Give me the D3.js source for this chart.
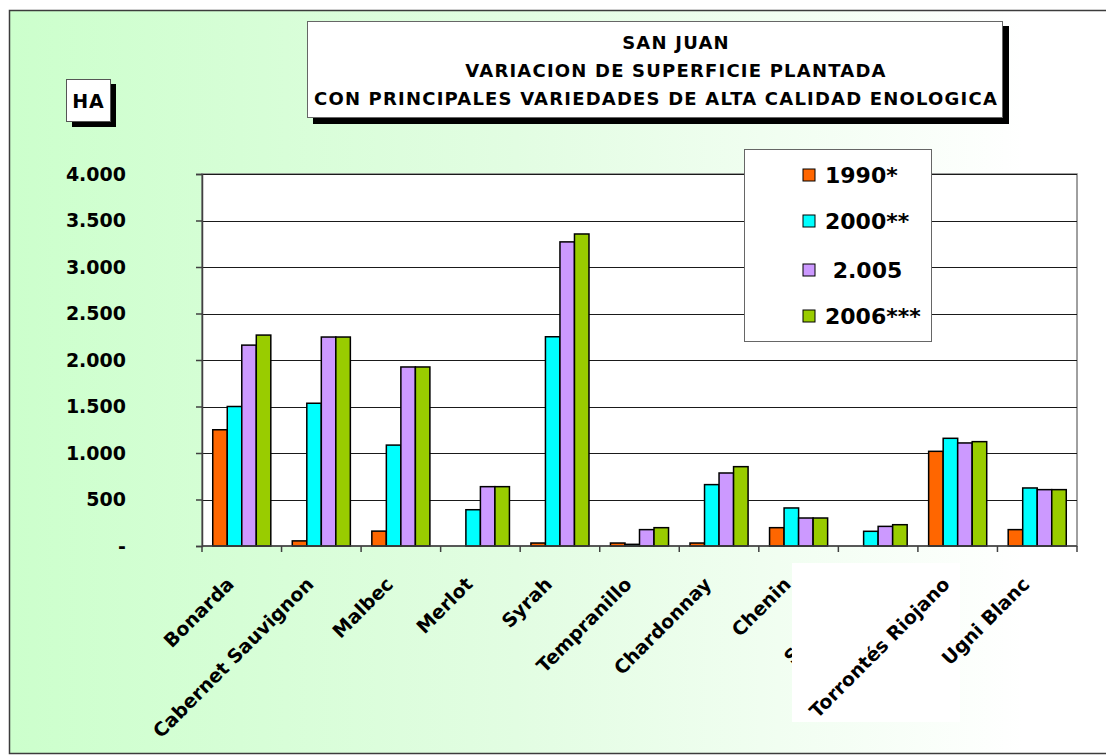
<!DOCTYPE html>
<html>
<head>
<meta charset="utf-8">
<script src="https://cdn.jsdelivr.net/npm/d3@7"></script>
<style>
  html, body { margin: 0; padding: 0; background: #ffffff; }
  svg { display: block; font-family: "DejaVu Sans", sans-serif; font-weight: bold; }
</style>
</head>
<body>
<svg id="chart"></svg>
<script>
const categories = ["Bonarda", "Cabernet Sauvignon", "Malbec", "Merlot", "Syrah", "Tempranillo",
  "Chardonnay", "Chenin", "Sauvignon", "Torrontés Riojano", "Ugni Blanc"]
const seriesNames = ["1990*", "2000**", " 2.005", "2006***"]
const v1990 = [1250, 55, 160, 0, 32, 32, 32, 197, 0, 1018, 176]
const v2000 = [1500, 1535, 1085, 390, 2250, 18, 660, 409, 158, 1158, 624]
const v2005 = [2160, 2247, 1925, 638, 3270, 176, 785, 301, 211, 1108, 606]
const v2006 = [2268, 2247, 1925, 638, 3355, 197, 853, 301, 229, 1122, 606]
const yTicks = [0, 500, 1000, 1500, 2000, 2500, 3000, 3500, 4000]
const titleLines = ["SAN JUAN", "VARIACION DE SUPERFICIE  PLANTADA", "CON PRINCIPALES VARIEDADES DE ALTA CALIDAD ENOLOGICA"]
const colors = ["#FF6600", "#00FFFF", "#CC99FF", "#99CC00"]

const seriesValues = [v1990, v2000, v2005, v2006]

const width = 1106
const height = 756
const plot = { left: 202, right: 1077, top: 174, bottom: 546 }

const svg = d3.select("#chart")
  .attr("width", width)
  .attr("height", height)

const defs = svg.append("defs")
const grad = defs.append("linearGradient").attr("id", "bg").attr("x1", "0").attr("x2", "1").attr("y1", "0").attr("y2", "0")
grad.append("stop").attr("offset", "0").attr("stop-color", "#ccffcc")
grad.append("stop").attr("offset", "0.45").attr("stop-color", "#e2fde2")
grad.append("stop").attr("offset", "0.9").attr("stop-color", "#ffffff")

// outer frame
svg.append("rect")
  .attr("x", 9.5).attr("y", 10.5)
  .attr("width", width + 20).attr("height", 743)
  .attr("fill", "url(#bg)")
  .attr("stroke", "#3c3c3c").attr("stroke-width", 1.5)

const x = d3.scaleBand()
  .domain(categories)
  .range([plot.left, plot.right])
  .paddingInner(0.27)
  .paddingOuter(0.135)

const xEdge = d3.scaleBand().domain(categories).range([plot.left, plot.right])

const xs = d3.scaleBand().domain(d3.range(seriesNames.length)).range([0, x.bandwidth()])

const y = d3.scaleLinear().domain([0, 4000]).range([plot.bottom, plot.top])

const fmt = d3.formatLocale({ decimal: ",", thousands: ".", grouping: [3], currency: ["", ""] }).format(",")

// plot area
svg.append("rect")
  .attr("x", plot.left).attr("y", plot.top)
  .attr("width", plot.right - plot.left).attr("height", plot.bottom - plot.top)
  .attr("fill", "#ffffff")
  .attr("stroke", "#808080").attr("stroke-width", 1.5)

// gridlines
svg.append("g")
  .selectAll("line")
  .data(yTicks.filter(d => d > 0))
  .join("line")
  .attr("x1", plot.left).attr("x2", plot.right)
  .attr("y1", d => Math.round(y(d)) + 0.5).attr("y2", d => Math.round(y(d)) + 0.5)
  .attr("stroke", "#1a1a1a").attr("stroke-width", 1)

// y axis
const yAxis = d3.axisLeft(y)
  .tickValues(yTicks)
  .tickSize(6)
  .tickPadding(70)
  .tickFormat(d => d === 0 ? "-" : fmt(d))

const yg = svg.append("g")
  .attr("transform", `translate(${plot.left},0)`)
  .call(yAxis)
yg.select(".domain").attr("stroke", "#404040").attr("stroke-width", 1.5)
yg.selectAll(".tick line").attr("stroke", "#404040").attr("stroke-width", 1.5)
yg.selectAll(".tick text")
  .attr("fill", "#000")
  .style("font-size", "19px")
  .style("font-family", "DejaVu Sans, sans-serif")
  .style("font-weight", "bold")

// bars
const groups = svg.append("g")
  .selectAll("g")
  .data(seriesValues)
  .join("g")
  .attr("fill", (d, i) => colors[i])

groups.selectAll("rect")
  .data((vals, si) => vals.map((v, ci) => ({ v, si, c: categories[ci] })))
  .join("rect")
  .attr("x", d => x(d.c) + xs(d.si))
  .attr("y", d => y(d.v))
  .attr("width", xs.bandwidth())
  .attr("height", d => plot.bottom - y(d.v))
  .attr("stroke", "#000")
  .attr("stroke-width", d => d.v > 0 ? 1.5 : 0)

// x axis line and ticks
svg.append("line")
  .attr("x1", plot.left).attr("x2", plot.right)
  .attr("y1", plot.bottom).attr("y2", plot.bottom)
  .attr("stroke", "#404040").attr("stroke-width", 1.5)

svg.append("g")
  .selectAll("line")
  .data(categories.map(c => xEdge(c)).concat([plot.right]))
  .join("line")
  .attr("x1", d => d).attr("x2", d => d)
  .attr("y1", plot.bottom).attr("y2", plot.bottom + 6)
  .attr("stroke", "#404040").attr("stroke-width", 1.5)

// category labels
const labelPos = c => `translate(${x(c) + x.bandwidth() / 2 - 16},${plot.bottom + 30}) rotate(-45)`

function drawLabels(list) {
  svg.append("g")
    .selectAll("text")
    .data(list)
    .join("text")
    .attr("transform", labelPos)
    .attr("text-anchor", "end")
    .attr("dy", "0.7em")
    .style("font-size", "19px")
    .attr("fill", "#000")
    .text(c => c)
}

// the Sauvignon label sits under a white patch; the rest are drawn over it
drawLabels(["Sauvignon"])

svg.append("rect")
  .attr("x", 792).attr("y", 563)
  .attr("width", 168).attr("height", 159)
  .attr("fill", "#ffffff")

drawLabels(categories.filter(c => c !== "Sauvignon"))

// title box
svg.append("rect")
  .attr("x", 313).attr("y", 26).attr("width", 696).attr("height", 98)
  .attr("fill", "#000")
svg.append("rect")
  .attr("x", 307.5).attr("y", 21.5).attr("width", 695).attr("height", 96)
  .attr("fill", "#ffffff").attr("stroke", "#666").attr("stroke-width", 1)

svg.append("g")
  .selectAll("text")
  .data(titleLines)
  .join("text")
  .attr("x", (d, i) => i < 2 ? 676 : 656)
  .attr("y", (d, i) => 49 + i * 28)
  .attr("text-anchor", "middle")
  .style("font-size", "18px")
  .style("letter-spacing", "1.2px")
  .attr("fill", "#000")
  .text(d => d)

// HA box
svg.append("rect")
  .attr("x", 72).attr("y", 84).attr("width", 44).attr("height", 43)
  .attr("fill", "#000")
svg.append("rect")
  .attr("x", 66.5).attr("y", 79.5).attr("width", 44).attr("height", 42)
  .attr("fill", "#ffffff").attr("stroke", "#555").attr("stroke-width", 1)
svg.append("text")
  .attr("x", 88.5).attr("y", 107.5)
  .attr("text-anchor", "middle")
  .style("font-size", "19px")
  .style("letter-spacing", "1px")
  .attr("fill", "#000")
  .text("HA")

// legend
const legend = svg.append("g")
legend.append("rect")
  .attr("x", 744.5).attr("y", 149.5).attr("width", 187).attr("height", 192)
  .attr("fill", "#ffffff").attr("stroke", "#666").attr("stroke-width", 1)

const legendY = [175, 221, 270, 316]
const items = legend.selectAll("g")
  .data(seriesNames)
  .join("g")
  .attr("transform", (d, i) => `translate(803,${legendY[i]})`)
items.append("rect")
  .attr("x", 0).attr("y", -6).attr("width", 12).attr("height", 12)
  .attr("fill", (d, i) => colors[i])
  .attr("stroke", "#000").attr("stroke-width", 1)
items.append("text")
  .attr("x", 22).attr("y", 0)
  .attr("dy", "0.36em")
  .style("font-size", "22px")
  .attr("xml:space", "preserve")
  .attr("fill", "#000")
  .text(d => d)
</script>
</body>
</html>
